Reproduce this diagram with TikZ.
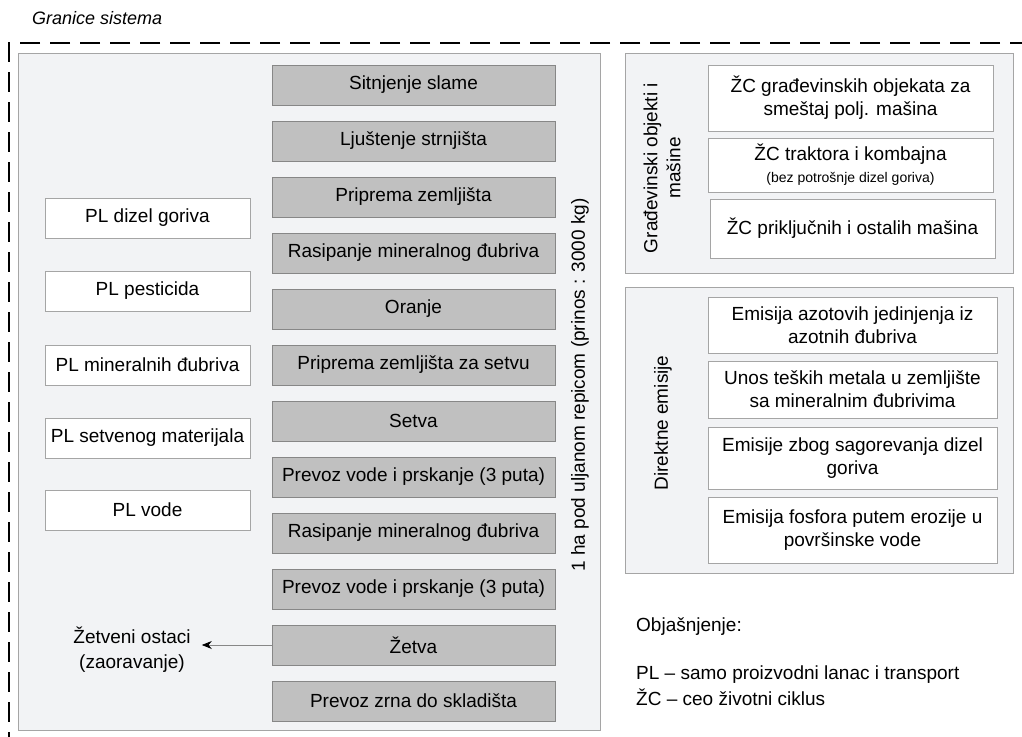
\documentclass[tikz,border=0pt]{standalone}
\usepackage{fontspec}
\setmainfont{Liberation Sans}
\usepackage{xcolor}
\definecolor{panelfill}{RGB}{242,243,245}
\definecolor{panelline}{RGB}{165,165,165}
\definecolor{stepgrey}{RGB}{192,192,192}
\definecolor{stepline}{RGB}{135,135,135}
\usepackage{tikz}
\usetikzlibrary{positioning, arrows.meta}

\begin{document}
\begin{tikzpicture}[x=1pt, y=-1pt,
  panel/.style={rectangle, draw=panelline, fill=panelfill, line width=1pt, anchor=north west, inner sep=0pt},
  stepbox/.style={rectangle, draw=stepline, fill=stepgrey, line width=1pt, minimum width=283pt,
                  minimum height=40pt, font=\fontsize{19}{22}\selectfont, inner sep=0pt},
  inbox/.style={rectangle, draw=panelline, fill=white, line width=1pt, minimum width=205pt,
                minimum height=40pt, font=\fontsize{19}{22}\selectfont, inner sep=0pt},
  infobox/.style={rectangle, draw=panelline, fill=white, line width=1pt, align=center,
                  font=\fontsize{19}{23}\selectfont, inner sep=0pt},
  sidelabel/.style={rotate=90, align=center, font=\fontsize{19}{23}\selectfont},
  plain/.style={font=\fontsize{19}{22}\selectfont, anchor=west, inner sep=0pt},
  boundary/.style={line width=2.7pt, dash pattern=on 20pt off 10pt},
  outflow/.style={-{Stealth[length=10pt, width=8pt, color=black]}, draw=stepline, line width=0.8pt},
]
  \useasboundingbox (0,0) rectangle (1022,736);

  % System boundary
  \node[font=\fontsize{18}{21}\selectfont\itshape, anchor=west, inner sep=0pt] (granice) at (32,18) {Granice sistema};
  \coordinate (bcorner) at (9,43);
  \coordinate (bright) at (1030,43);
  \coordinate (bbottom) at (9,745);
  \draw[boundary] (bright) -- (bcorner) -- (bbottom);

  % Panels
  \node[panel, minimum width=582pt, minimum height=677pt] (lca) at (18,53) {};
  \node[panel, minimum width=388pt, minimum height=220pt] (gradj) at (625,53) {};
  \node[panel, minimum width=388pt, minimum height=286pt] (emis) at (625,287) {};

  % Field operations
  \node[stepbox] (sitnj) at (413.5,85) {Sitnjenje slame};
  \node[stepbox] (ljust) at (413.5,141) {Ljuštenje strnjišta};
  \node[stepbox] (prip) at (413.5,197) {Priprema zemljišta};
  \node[stepbox] (ras1) at (413.5,253) {Rasipanje mineralnog đubriva};
  \node[stepbox] (oranje) at (413.5,309) {Oranje};
  \node[stepbox] (pripset) at (413.5,365) {Priprema zemljišta za setvu};
  \node[stepbox] (setva) at (413.5,421) {Setva};
  \node[stepbox] (prsk1) at (413.5,477) {Prevoz vode i prskanje (3 puta)};
  \node[stepbox] (ras2) at (413.5,533) {Rasipanje mineralnog đubriva};
  \node[stepbox] (prsk2) at (413.5,589) {Prevoz vode i prskanje (3 puta)};
  \node[stepbox] (zetva) at (413.5,645) {Žetva};
  \node[stepbox] (prevoz) at (413.5,701) {Prevoz zrna do skladišta};

  \node[sidelabel] (hektar) at (580,385) {1 ha pod uljanom repicom (prinos : 3000 kg)};

  % Inputs
  \node[inbox] (dizel) at (147.5,218) {PL dizel goriva};
  \node[inbox] (pest) at (147.5,291) {PL pesticida};
  \node[inbox] (mindj) at (147.5,365) {PL mineralnih đubriva};
  \node[inbox] (setmat) at (147.5,438) {PL setvenog materijala};
  \node[inbox] (voda) at (147.5,510) {PL vode};

  % Residues
  \node[align=center, font=\fontsize{19}{25}\selectfont, inner sep=0pt] (ostaci) at (132,650) {Žetveni ostaci\\(zaoravanje)};
  \draw[outflow] (zetva.west) -- ([xshift=11pt]ostaci.east |- zetva.west);

  % Buildings and machines
  \node[sidelabel] (gradjlbl) at (662,168) {Građevinski objekti i\\mašine};
  \node[infobox, minimum width=285pt, minimum height=66pt] (objekti) at (850.5,98) {ŽC građevinskih objekata za\\smeštaj polj. mašina};
  \node[infobox, minimum width=285pt, minimum height=54pt] (traktor) at (850.5,165)
    {ŽC traktora i kombajna\\[-1pt]{\fontsize{14}{16}\selectfont (bez potrošnje dizel goriva)}};
  \node[infobox, minimum width=285pt, minimum height=59pt] (masine) at (852.5,228.5) {ŽC priključnih i ostalih mašina};

  % Direct emissions
  \node[sidelabel] (emislbl) at (663,423) {Direktne emisije};
  \node[infobox, minimum width=289pt, minimum height=56pt] (azot) at (852.5,325) {Emisija azotovih jedinjenja iz\\azotnih đubriva};
  \node[infobox, minimum width=289pt, minimum height=57pt] (metali) at (852.5,389.5) {Unos teških metala u zemljište\\sa mineralnim đubrivima};
  \node[infobox, minimum width=289pt, minimum height=62pt] (sagor) at (852.5,458) {Emisije zbog sagorevanja dizel\\goriva};
  \node[infobox, minimum width=289pt, minimum height=66pt] (fosfor) at (852.5,530) {Emisija fosfora putem erozije u\\površinske vode};

  % Legend
  \node[plain] (objasnj) at (636,627) {Objašnjenje:};
  \node[plain] (legpl) at (636,675) {PL – samo proizvodni lanac i transport};
  \node[plain] (legzc) at (636,697) {ŽC – ceo životni ciklus};
\end{tikzpicture}
\end{document}
